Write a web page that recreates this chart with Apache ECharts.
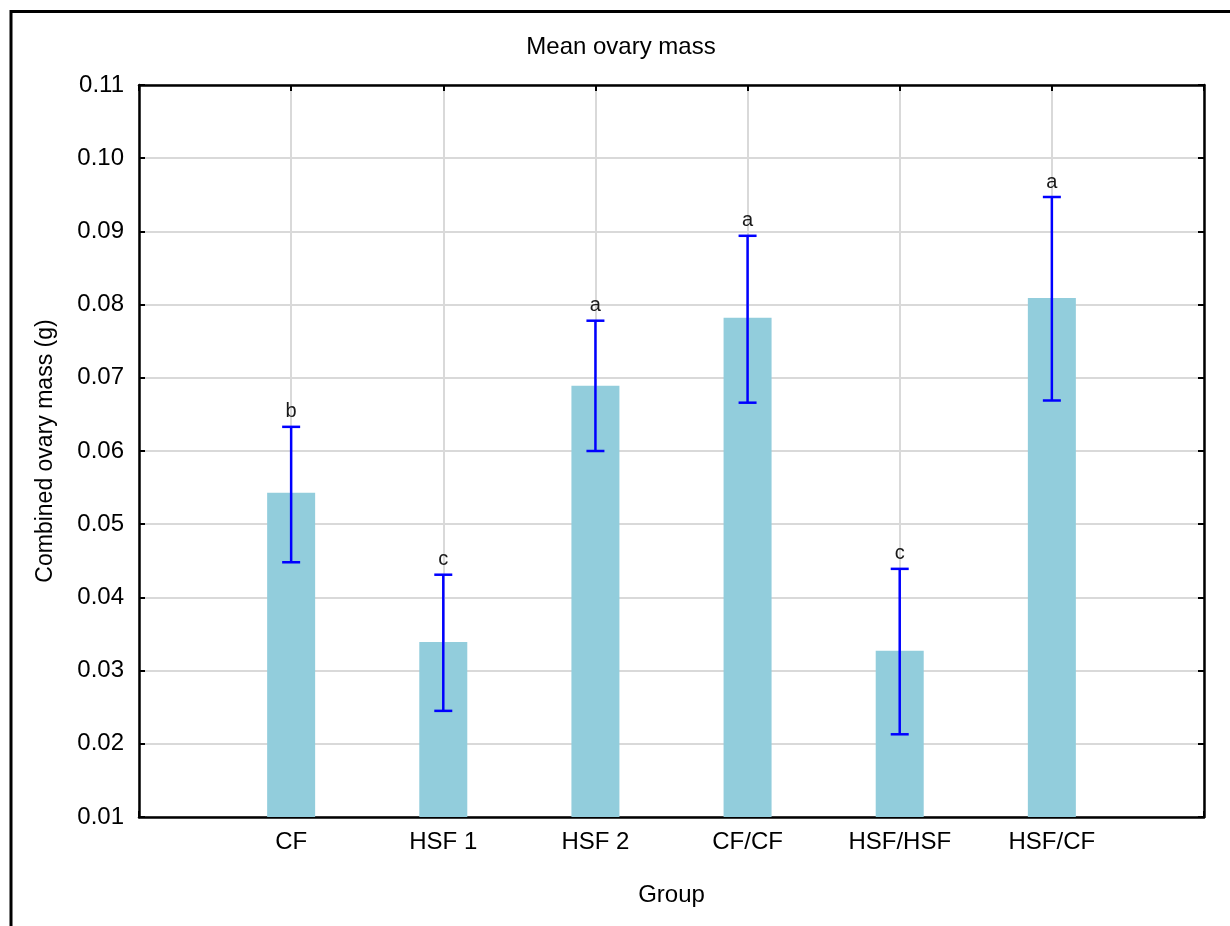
<!DOCTYPE html>
<html>
<head>
<meta charset="utf-8">
<script src="https://cdn.jsdelivr.net/npm/echarts@6/dist/echarts.min.js"></script>
<style>
  html, body { margin: 0; padding: 0; background: #fff; }
  #chart { width: 1230px; height: 926px; }
</style>
</head>
<body>
<div id="chart"></div>
<script>
// Groups and measured ovary mass (g)
const groups = ['CF', 'HSF 1', 'HSF 2', 'CF/CF', 'HSF/HSF', 'HSF/CF'];
const means = [0.0543, 0.0339, 0.0689, 0.0782, 0.0327, 0.0809];
const errLow = [0.0448, 0.0245, 0.0600, 0.0666, 0.0213, 0.0669];
const errHigh = [0.0633, 0.0431, 0.0778, 0.0894, 0.0439, 0.0947];
const letters = ['b', 'c', 'a', 'a', 'c', 'a'];
const yTicks = ['0.01', '0.02', '0.03', '0.04', '0.05', '0.06', '0.07', '0.08', '0.09', '0.10', '0.11'];

// Empty slots at both ends give the half-gap margins around the groups
const cats = [''].concat(groups, ['']);
const barData = ['-'].concat(means, ['-']);
const errData = groups.map((g, i) => [i + 1, errLow[i], errHigh[i], letters[i]]);

const FONT = "'Liberation Sans', Arial, sans-serif";
const chart = echarts.init(document.getElementById('chart'), null, { renderer: 'canvas' });

const frameAxis = {
  axisLine: { show: true, onZero: false, lineStyle: { color: '#000', width: 2.5 } },
  axisTick: { show: true, inside: true, length: 6, lineStyle: { color: '#000', width: 2 } }
};

chart.setOption({
  animation: false,
  backgroundColor: '#fff',
  grid: { left: 139, top: 85, right: 26, bottom: 109, containLabel: false },
  graphic: [
    { type: 'rect', shape: { x: 11, y: 11.5, width: 1400, height: 1000 },
      style: { fill: 'none', stroke: '#000', lineWidth: 3 }, z: 100 },
    { type: 'text', x: 621, y: 47,
      style: { text: 'Mean ovary mass', fill: '#000', font: '24px ' + FONT,
               textAlign: 'center', textVerticalAlign: 'middle' } }
  ],
  xAxis: [
    Object.assign({
      type: 'category', data: cats, boundaryGap: false, position: 'bottom',
      name: 'Group', nameLocation: 'middle', nameGap: 66,
      nameTextStyle: { fontFamily: FONT, fontSize: 24, color: '#000' },
      axisLabel: { fontFamily: FONT, fontSize: 24, color: '#000', margin: 13, interval: 0 },
      splitLine: { show: true, interval: 0, lineStyle: { color: '#d9d9d9', width: 2 } }
    }, frameAxis),
    Object.assign({
      type: 'category', data: cats, boundaryGap: false, position: 'top',
      axisLabel: { show: false }, splitLine: { show: false }
    }, frameAxis)
  ],
  yAxis: [
    Object.assign({
      type: 'value', min: 0.01, max: 0.11, interval: 0.01, position: 'left',
      name: 'Combined ovary mass (g)', nameLocation: 'middle', nameGap: 82, nameRotate: 90,
      nameTextStyle: { fontFamily: FONT, fontSize: 23, color: '#000' },
      axisLabel: { fontFamily: FONT, fontSize: 24, color: '#000', margin: 15,
                   formatter: v => yTicks[Math.round(v * 100) - 1] },
      splitLine: { show: true, lineStyle: { color: '#d9d9d9', width: 2 } }
    }, frameAxis),
    Object.assign({
      type: 'value', min: 0.01, max: 0.11, interval: 0.01, position: 'right',
      axisLabel: { show: false }, splitLine: { show: false }
    }, frameAxis)
  ],
  series: [
    {
      type: 'bar', data: barData, barWidth: 48, z: 3,
      itemStyle: { color: '#92cddc' }
    },
    {
      type: 'custom', data: errData, z: 5,
      renderItem: function (params, api) {
        const x = api.value(0);
        const lo = api.coord([x, api.value(1)]);
        const hi = api.coord([x, api.value(2)]);
        const half = 9;
        const ls = { stroke: '#0000ff', lineWidth: 2.5 };
        return {
          type: 'group',
          children: [
            { type: 'line', shape: { x1: hi[0], y1: hi[1], x2: lo[0], y2: lo[1] }, style: ls },
            { type: 'line', shape: { x1: hi[0] - half, y1: hi[1], x2: hi[0] + half, y2: hi[1] }, style: ls },
            { type: 'line', shape: { x1: lo[0] - half, y1: lo[1], x2: lo[0] + half, y2: lo[1] }, style: ls },
            { type: 'text', x: hi[0], y: hi[1] - 5,
              style: { text: api.value(3), fill: '#1a1a1a', font: '20px ' + FONT,
                       textAlign: 'center', textVerticalAlign: 'bottom' } }
          ]
        };
      }
    }
  ]
});
</script>
</body>
</html>
